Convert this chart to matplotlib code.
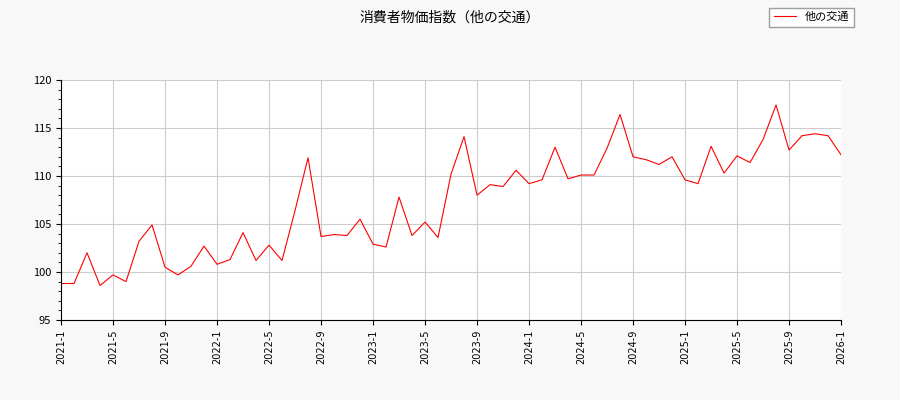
import matplotlib
matplotlib.use('Agg')
import matplotlib.pyplot as plt

plt.rcParams['font.family'] = ['Noto Sans CJK JP', 'DejaVu Sans']

title = '消費者物価指数（他の交通）'
series_name = '他の交通'
values = [
    98.8, 98.8, 102.0, 98.6, 99.7, 99.0, 103.2, 104.9, 100.5, 99.7, 100.6, 102.7,
    100.8, 101.3, 104.1, 101.2, 102.8, 101.2, 106.4, 111.9, 103.7, 103.9, 103.8, 105.5,
    102.9, 102.6, 107.8, 103.8, 105.2, 103.6, 110.2, 114.1, 108.0, 109.1, 108.9, 110.6,
    109.2, 109.6, 113.0, 109.7, 110.1, 110.1, 112.9, 116.4, 112.0, 111.7, 111.2, 112.0,
    109.6, 109.2, 113.1, 110.3, 112.1, 111.4, 113.8, 117.4, 112.7, 114.2, 114.4, 114.2,
    112.2,
]
tick_pos = list(range(0, 61, 4))
tick_labels = ['%d-%d' % (2021 + i // 12, i % 12 + 1) for i in tick_pos]

fig = plt.figure(figsize=(9, 4), dpi=100, facecolor='#f8f8f8')
ax = fig.add_axes([0.0678, 0.2, 0.8667, 0.6])
ax.plot(range(len(values)), values, color='red', lw=0.8, label=series_name)
ax.set_xlim(0, 60)
ax.set_ylim(95, 120)
ax.set_yticks(range(95, 121, 5))
ax.set_yticks(range(95, 121, 1), minor=True)
ax.set_xticks(tick_pos)
ax.set_xticklabels(tick_labels, rotation=90, fontsize=7, family='DejaVu Sans')
ax.tick_params(axis='y', labelsize=8)
ax.grid(True, color='#cccccc', lw=0.8)
for s in ['top', 'right']:
    ax.spines[s].set_visible(False)
fig.text(0.5, 0.955, title, ha='center', va='center', fontsize=10)
fig.legend(loc='upper right', bbox_to_anchor=(0.955, 0.995), fontsize=8,
           fancybox=False, edgecolor='#888888')
fig.savefig('out.png', facecolor=fig.get_facecolor())
